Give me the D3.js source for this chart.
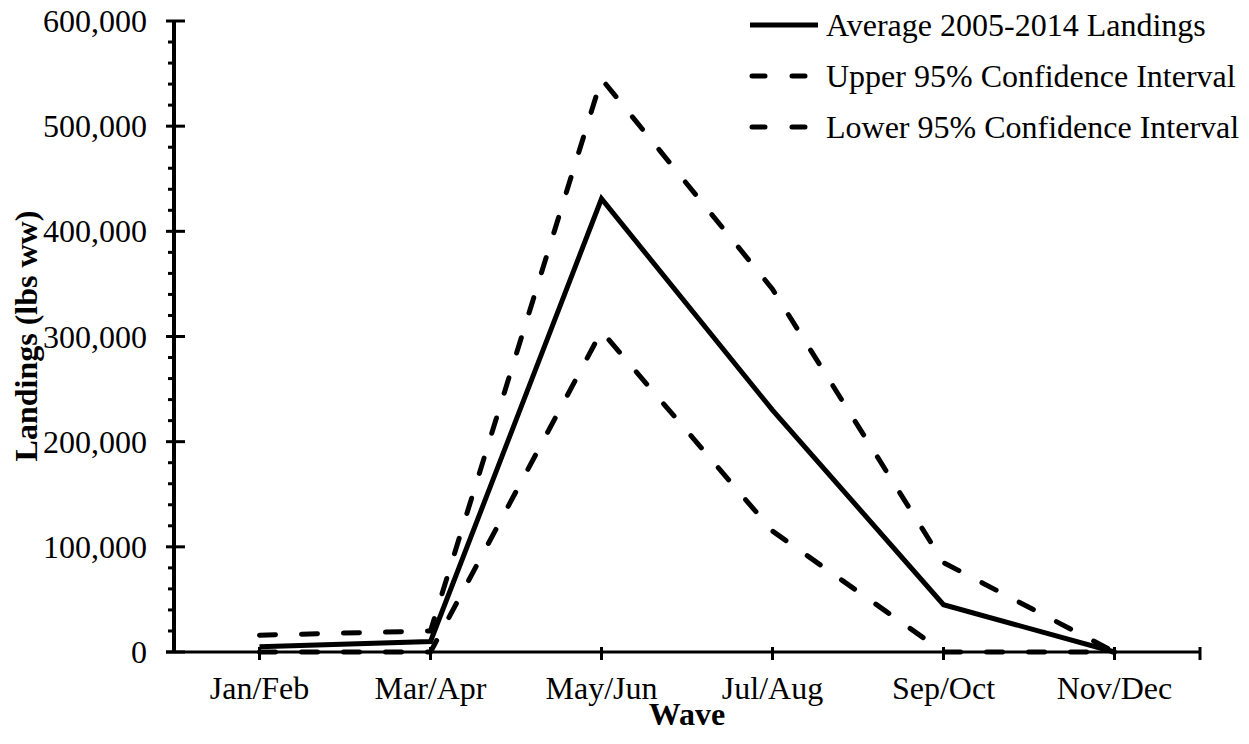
<!DOCTYPE html>
<html>
<head>
<meta charset="utf-8">
<script src="https://cdn.jsdelivr.net/npm/d3@7"></script>
<style>
  body { margin: 0; background: #fff; }
  svg text { font-family: "Liberation Serif", "Times New Roman", serif; fill: #000; }
</style>
</head>
<body>
<div id="chart"></div>
<script>
var waves = ["Jan/Feb", "Mar/Apr", "May/Jun", "Jul/Aug", "Sep/Oct", "Nov/Dec"];
var average = [5000, 10000, 431000, 230000, 45000, 0];
var upper = [16000, 20000, 545000, 345000, 85000, 0];
var lower = [0, 0, 305000, 115000, 0, 0];
var yTicks = [0, 100000, 200000, 300000, 400000, 500000, 600000];
var seriesNames = ["Average 2005-2014 Landings", "Upper 95% Confidence Interval", "Lower 95% Confidence Interval"];

(function() {
    var width = 1249,
        height = 744;

    var svg = d3.select("#chart")
        .append("svg")
        .attr("width", width)
        .attr("height", height)

    var x = d3.scaleBand().domain(waves).range([174, 1200])
    var y = d3.scaleLinear().domain([0, 600000]).range([652, 21])

    function cx(d, i) { return x(waves[i]) + x.bandwidth() / 2 }

    var axisColor = "#000"

    // y axis
    svg.append("line")
        .attr("x1", 174).attr("x2", 174)
        .attr("y1", y(600000)).attr("y2", y(0))
        .attr("stroke", axisColor).attr("stroke-width", 4)

    var minor = d3.range(0, 600001, 20000).filter(function(v) { return v % 100000 != 0 })
    svg.selectAll(".minor")
        .data(minor)
        .enter().append("line")
        .attr("x1", 168).attr("x2", 174)
        .attr("y1", function(d) { return y(d) })
        .attr("y2", function(d) { return y(d) })
        .attr("stroke", axisColor).attr("stroke-width", 3)

    svg.selectAll(".major")
        .data(yTicks)
        .enter().append("line")
        .attr("x1", 166).attr("x2", 185)
        .attr("y1", function(d) { return y(d) })
        .attr("y2", function(d) { return y(d) })
        .attr("stroke", axisColor).attr("stroke-width", 3)

    svg.selectAll(".ylabel")
        .data(yTicks)
        .enter().append("text")
        .attr("x", 147)
        .attr("y", function(d) { return y(d) + 11 })
        .attr("text-anchor", "end")
        .style("font-size", "32px")
        .text(function(d) { return d3.format(",")(d) })

    // x axis
    svg.append("line")
        .attr("x1", 166).attr("x2", 1200)
        .attr("y1", y(0)).attr("y2", y(0))
        .attr("stroke", axisColor).attr("stroke-width", 3)

    var xTickPos = waves.map(function(w) { return x(w) + x.bandwidth() / 2 }).concat([1200])
    svg.selectAll(".xtick")
        .data(xTickPos)
        .enter().append("line")
        .attr("x1", function(d) { return d }).attr("x2", function(d) { return d })
        .attr("y1", y(0) - 5).attr("y2", y(0) + 8)
        .attr("stroke", axisColor).attr("stroke-width", 3)

    svg.selectAll(".xlabel")
        .data(waves)
        .enter().append("text")
        .attr("x", function(d) { return x(d) + x.bandwidth() / 2 })
        .attr("y", 699)
        .attr("text-anchor", "middle")
        .style("font-size", "32px")
        .text(function(d) { return d })

    svg.append("text")
        .attr("x", 687).attr("y", 725)
        .attr("text-anchor", "middle")
        .style("font-size", "32px").style("font-weight", "bold")
        .text("Wave")

    svg.append("text")
        .attr("transform", "translate(37," + 336 + ") rotate(-90)")
        .attr("text-anchor", "middle")
        .style("font-size", "32px").style("font-weight", "bold")
        .text("Landings (lbs ww)")

    // lines
    var line = d3.line()
        .x(cx)
        .y(function(d) { return y(d) })

    var series = [
        { name: seriesNames[0], values: average, dash: null },
        { name: seriesNames[1], values: upper, dash: "16,26" },
        { name: seriesNames[2], values: lower, dash: "16,26" }
    ]

    svg.selectAll(".series")
        .data(series)
        .enter().append("path")
        .attr("class", "series")
        .attr("d", function(d) { return line(d.values) })
        .attr("fill", "none")
        .attr("stroke", "#000")
        .attr("stroke-width", 5)
        .attr("stroke-linejoin", "miter")
        .attr("stroke-linecap", function(d) { return d.dash ? "round" : "butt" })
        .attr("stroke-dasharray", function(d) { return d.dash })

    // legend
    var legend = svg.selectAll(".legend")
        .data(series)
        .enter().append("g")
        .attr("transform", function(d, i) { return "translate(750," + (25 + i * 51) + ")" })

    legend.append("line")
        .attr("x1", function(d) { return d.dash ? 2 : 0 })
        .attr("x2", 68)
        .attr("y1", 0).attr("y2", 0)
        .attr("stroke", "#000").attr("stroke-width", 5)
        .attr("stroke-linecap", function(d) { return d.dash ? "round" : "butt" })
        .attr("stroke-dasharray", function(d) { return d.dash ? "13,27" : null })

    legend.append("text")
        .attr("x", 76).attr("y", 11)
        .style("font-size", "32px")
        .text(function(d) { return d.name })
})();
</script>
</body>
</html>
